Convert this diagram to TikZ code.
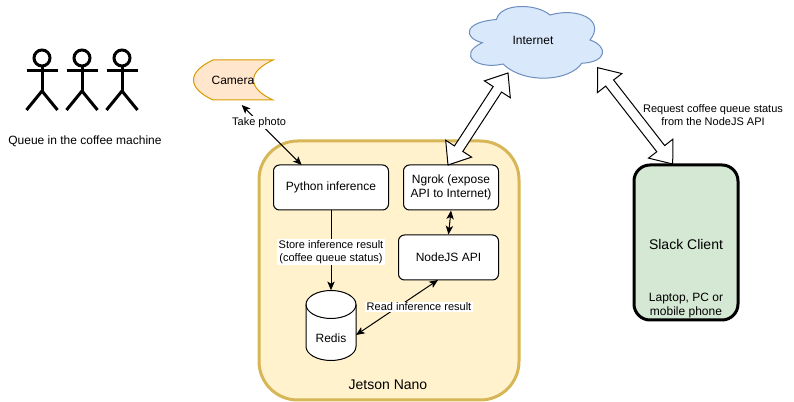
\documentclass[tikz,border=0pt]{standalone}
\usepackage{fontspec}
\setmainfont{Liberation Sans}
\usetikzlibrary{arrows.meta,calc}
\definecolor{jetsonfill}{HTML}{FFF2CC}
\definecolor{jetsonline}{HTML}{D6B656}
\definecolor{camfill}{HTML}{FFE6CC}
\definecolor{camline}{HTML}{D79B00}
\definecolor{cloudfill}{HTML}{DAE8FC}
\definecolor{cloudline}{HTML}{6C8EBF}
\definecolor{slackfill}{HTML}{D5E8D4}
\tikzset{
  txt/.style={font=\fontsize{9}{10.5}\selectfont,align=center,inner sep=0pt},
  bigtxt/.style={font=\fontsize{10.5}{12}\selectfont,align=center,inner sep=0pt},
  lbl/.style={font=\fontsize{8.25}{9.75}\selectfont,align=center,inner sep=1pt},
  lblw/.style={lbl,fill=white},
  box/.style={txt,draw=black,fill=white,line width=0.75pt,rounded corners=4.5pt},
  link/.style={line width=0.75pt,draw=black},
  bigarrow/.style={draw=black,fill=white,line width=0.75pt,line join=miter},
  tip/.tip={Stealth[length=6.5pt,width=5.5pt,inset=1.6pt]}
}
% hollow two-headed arrow
\newcommand{\hollowarrow}[2]{
  \draw[bigarrow] (#1)
    -- ($(#1)!14.6pt!(#2)!11.6pt!90:(#2)$)
    -- ($(#1)!14.6pt!(#2)!3.75pt!90:(#2)$)
    -- ($(#2)!14.6pt!(#1)!3.75pt!-90:(#1)$)
    -- ($(#2)!14.6pt!(#1)!11.6pt!-90:(#1)$)
    -- (#2)
    -- ($(#2)!14.6pt!(#1)!11.6pt!90:(#1)$)
    -- ($(#2)!14.6pt!(#1)!3.75pt!90:(#1)$)
    -- ($(#1)!14.6pt!(#2)!3.75pt!-90:(#2)$)
    -- ($(#1)!14.6pt!(#2)!11.6pt!-90:(#2)$)
    -- cycle;
}
\begin{document}
\begin{tikzpicture}[x=0.75pt,y=-0.75pt]
  \useasboundingbox (0,0) rectangle (794,402);
  % Queue of people
  \foreach \px in {42,82,122}{
    \draw[line width=2.25pt] (\px,58) circle (8);
    \draw[line width=2.25pt] (\px,66) -- (\px,91);
    \draw[line width=2.25pt] (\px-15.5,70.5) -- (\px+15.5,70.5);
    \draw[line width=2.25pt] (\px-15.5,110) -- (\px,91) -- (\px+15.5,110);
  }
  \node[txt] (queue) at (85,141) {Queue in the coffee machine};
  % Camera
  \draw[draw=camline,fill=camfill,line width=0.75pt] (213,60) -- (273,60)
    .. controls (247,72) and (247,88) .. (273,100) -- (213,100)
    .. controls (187,88) and (187,72) .. (213,60) -- cycle;
  \node[txt] (camera) at (233,80.5) {Camera};
  % Internet cloud
  \draw[draw=cloudline,fill=cloudfill,line width=0.75pt] (482.3,42.7)
    .. controls (463,38) and (463,22) .. (496.5,19.5)
    .. controls (500,3) and (536,3) .. (550,15)
    .. controls (578,7) and (606,20) .. (590,40)
    .. controls (608,46) and (608,62) .. (581.7,63.3)
    .. controls (570,81) and (525,85) .. (503,64)
    .. controls (478,70) and (456,55) .. (482.3,42.7) -- cycle;
  \node[txt] (internet) at (533,40.5) {Internet};
  % Jetson board
  \draw[draw=jetsonline,fill=jetsonfill,line width=2.25pt,rounded corners=29pt] (259,141) rectangle (519,400);
  \node[bigtxt] (jetson) at (388,385) {Jetson Nano};
  % Boxes on the board
  \node[box,minimum width=86.25pt,minimum height=33.75pt] (python) at (331,187.5) {Python inference};
  \node[box,minimum width=71.25pt,minimum height=33.75pt] (ngrok) at (451,187.5) {Ngrok (expose\\API to Internet)};
  \node[box,minimum width=75pt,minimum height=33.75pt] (nodejs) at (448.5,257.5) {NodeJS API};
  % Redis cylinder
  \draw[fill=white,line width=0.75pt] (306,304.5)
    .. controls (306,296.8) and (317.2,290.5) .. (331,290.5)
    .. controls (344.8,290.5) and (356,296.8) .. (356,304.5)
    -- (356,346.5)
    .. controls (356,354.2) and (344.8,360.5) .. (331,360.5)
    .. controls (317.2,360.5) and (306,354.2) .. (306,346.5) -- cycle;
  \draw[line width=0.75pt] (306,304.5)
    .. controls (306,312.2) and (317.2,318.5) .. (331,318.5)
    .. controls (344.8,318.5) and (356,312.2) .. (356,304.5);
  \node[txt,minimum width=37.5pt,minimum height=52.5pt,text height=6.5pt,text depth=1.8pt] (redis) at (331,325.5) {};
  \node[txt] (redislabel) at (331,338.5) {Redis};
  % Slack client
  \node[bigtxt,draw=black,fill=slackfill,line width=2.25pt,rounded corners=12pt,
    minimum width=78pt,minimum height=116.25pt] (slack) at (686,242.5) {};
  \node[bigtxt] (slacktext) at (686,244) {Slack Client};
  \node[txt] (slackdev) at (686,306) {Laptop, PC or\\mobile phone};
  % Arrows
  \coordinate (camtip) at (241.7,105);
  \coordinate (pytip) at (301.7,165);
  \draw[link,tip-tip] (camtip) -- node[lblw,pos=0.29] (takephoto) {Take photo} (pytip);
  \draw[link,-tip] (python.south) -- node[lblw,pos=0.525] (store) {Store inference result\\(coffee queue status)} (redis.north);
  \draw[link,tip-tip] (ngrok.south) -- (nodejs.north);
  \coordinate (redisside) at (356,335);
  \coordinate (nodetip) at (438,280);
  \draw[link,tip-tip] (redisside) -- (nodetip);
  \node[lblw] (readres) at (419,307) {Read inference result};
  % Hollow arrows
  \coordinate (cloudleft) at (508,73);
  \coordinate (ngroktop) at (448,165);
  \coordinate (cloudright) at (597.7,67.7);
  \coordinate (slacktop) at (672.7,164);
  \hollowarrow{cloudleft}{ngroktop}
  \hollowarrow{cloudright}{slacktop}
  \node[lbl] (request) at (713,115.5) {Request coffee queue status\\from the NodeJS API};
\end{tikzpicture}
\end{document}
